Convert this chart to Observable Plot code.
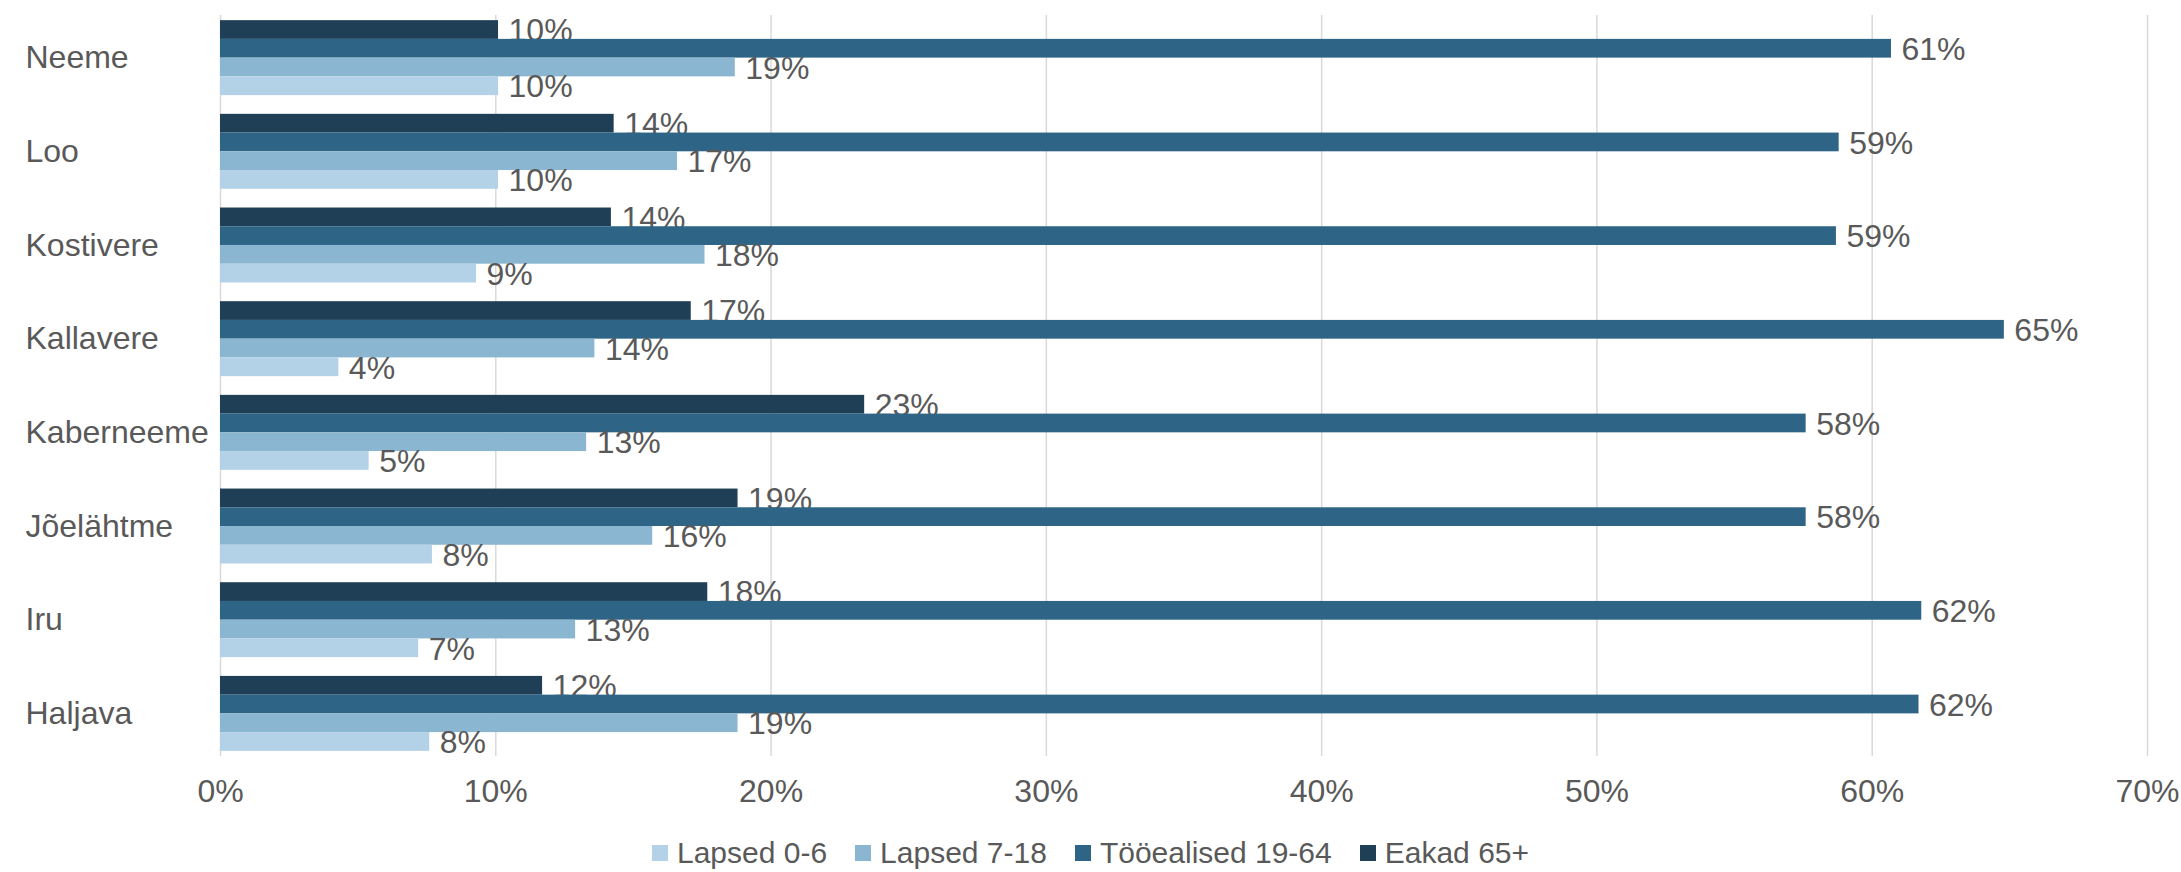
<!DOCTYPE html>
<html>
<head>
<meta charset="utf-8">
<script src="https://cdn.jsdelivr.net/npm/d3@7"></script>
<script src="https://cdn.jsdelivr.net/npm/@observablehq/plot@0.6"></script>
<style>
  html, body { margin: 0; padding: 0; background: #fff; }
  body { width: 2181px; height: 872px; overflow: hidden; font-family: "Liberation Sans", Arial, sans-serif; }
  #chart svg { display: block; }
  #legend { display: flex; justify-content: center; align-items: center; margin-top: 22px; line-height: 32px;
            font-size: 30px; color: #595959; padding-left: 0; }
  #legend .item { display: flex; align-items: center; margin: 0 14px; }
  #legend .sw { width: 16px; height: 16px; margin-right: 9px; }
</style>
</head>
<body>
<div id="chart"></div>
<div id="legend"></div>
<script>
// ---- data ----
const places = ["Neeme", "Loo", "Kostivere", "Kallavere", "Kaberneeme", "Jõelähtme", "Iru", "Haljava"];
const series = ["Lapsed 0-6", "Lapsed 7-18", "Tööealised 19-64", "Eakad 65+"];
const lapsed06   = [10.1, 10.1,  9.3,  4.3,  5.4,  7.7,  7.2,  7.6];
const lapsed718  = [18.7, 16.6, 17.6, 13.6, 13.3, 15.7, 12.9, 18.8];
const tooealised = [60.7, 58.8, 58.7, 64.8, 57.6, 57.6, 61.8, 61.7];
const eakad      = [10.1, 14.3, 14.2, 17.1, 23.4, 18.8, 17.7, 11.7];
const colors = ["#b4d2e7", "#8ab6d2", "#2e6586", "#1f3f57"];
const xTicks = [0, 10, 20, 30, 40, 50, 60, 70];

const seriesValues = [lapsed06, lapsed718, tooealised, eakad];
const table = places.flatMap((p, i) => series.map((s, j) => ({place: p, series: s, value: seriesValues[j][i]})));

// ---- layout ----
const W = 2181, H = 815;
const mTop = 15, mBottom = 59, mLeft = 220, mRight = 34;
const padInner = 0.2, padOuter = 0.055;
const step = (H - mTop - mBottom) / (places.length - padInner + 2 * padOuter);
const bw = step * (1 - padInner);
const sub = bw / series.length;

// top-to-bottom order within a group: Eakad, Tööealised, Lapsed 7-18, Lapsed 0-6
const order = [...series].reverse();

const marks = [
  Plot.gridX(xTicks, {stroke: "#d9d9d9", strokeOpacity: 1, strokeWidth: 1.5})
];
order.forEach((s, k) => {
  const rows = table.filter(d => d.series === s);
  marks.push(Plot.barX(rows, {
    x: "value", y: "place", fill: "series",
    insetTop: k * sub, insetBottom: (series.length - 1 - k) * sub
  }));
  marks.push(Plot.text(rows, {
    x: "value", y: "place", text: d => Math.round(d.value) + "%",
    textAnchor: "start", dx: 10, dy: -bw / 2 + (k + 0.5) * sub + 1,
    fill: "#595959"
  }));
});
marks.push(Plot.text(places, {
  y: d => d, text: d => d, frameAnchor: "left", textAnchor: "start", dx: 25 - mLeft, fill: "#595959"
}));
marks.push(Plot.axisX(xTicks, {tickFormat: d => d + "%", tickSize: 0, tickPadding: 23, fill: "#595959", label: null}));

const chart = Plot.plot({
  width: W, height: H,
  marginTop: mTop, marginBottom: mBottom, marginLeft: mLeft, marginRight: mRight,
  style: {fontSize: "32px", fontFamily: "'Liberation Sans', Arial, sans-serif", color: "#595959", background: "#fff"},
  x: {domain: [0, 70], axis: null, label: null},
  y: {domain: places, axis: null, paddingInner: padInner, paddingOuter: padOuter, round: false},
  color: {domain: series, range: colors},
  marks
});
document.getElementById("chart").appendChild(chart);

const legend = document.getElementById("legend");
series.forEach((s, i) => {
  const item = document.createElement("div");
  item.className = "item";
  const sw = document.createElement("div");
  sw.className = "sw";
  sw.style.background = colors[i];
  const t = document.createElement("span");
  t.textContent = s;
  item.appendChild(sw);
  item.appendChild(t);
  legend.appendChild(item);
});
</script>
</body>
</html>
